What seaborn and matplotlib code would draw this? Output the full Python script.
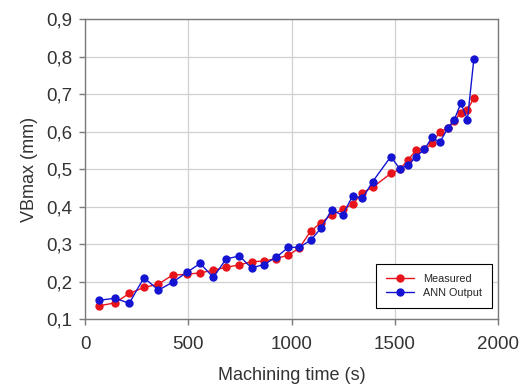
import matplotlib
matplotlib.use("Agg")
import matplotlib.pyplot as plt
from matplotlib.ticker import FuncFormatter
import seaborn as sns
import pandas as pd

# machining time (s)
time_s = [69, 145, 214, 285, 355, 424, 492, 557, 621, 683,
          747, 806, 864, 924, 984, 1037, 1092, 1142, 1193, 1247,
          1295, 1343, 1392, 1480, 1524, 1564, 1603, 1642, 1680, 1717,
          1755, 1787, 1819, 1851, 1882]
measured = [0.136, 0.144, 0.169, 0.185, 0.194, 0.218, 0.220, 0.224, 0.231, 0.239,
            0.245, 0.254, 0.255, 0.262, 0.271, 0.290, 0.335, 0.358, 0.378, 0.393,
            0.407, 0.438, 0.452, 0.489, 0.500, 0.526, 0.551, 0.553, 0.569, 0.600,
            0.609, 0.630, 0.651, 0.658, 0.691]
ann_output = [0.151, 0.156, 0.143, 0.211, 0.178, 0.199, 0.225, 0.249, 0.212, 0.261,
              0.269, 0.237, 0.246, 0.265, 0.292, 0.292, 0.311, 0.343, 0.391, 0.378,
              0.429, 0.423, 0.467, 0.534, 0.501, 0.512, 0.534, 0.553, 0.585, 0.572,
              0.609, 0.632, 0.676, 0.633, 0.794]
series_names = ["Measured", "ANN Output"]
series_colors = ["#e8141c", "#1414d2"]

sns.set_theme(style="white")
plt.rcParams['font.family'] = ['Liberation Sans', 'DejaVu Sans']

df = pd.concat([
    pd.DataFrame({'time': time_s, 'vb': measured, 'series': series_names[0]}),
    pd.DataFrame({'time': time_s, 'vb': ann_output, 'series': series_names[1]}),
])

fig = plt.figure(figsize=(5.25, 3.85), dpi=100)
ax = fig.add_axes([0.162, 0.1706, 0.787, 0.779])

sns.lineplot(data=df, x='time', y='vb', hue='series', hue_order=series_names,
             palette=series_colors, marker='o', markersize=6, markeredgewidth=0,
             linewidth=1.0, ax=ax, sort=False)

ax.set_xlim(0, 2000)
ax.set_ylim(0.1, 0.9)
ax.set_xticks([0, 500, 1000, 1500, 2000])
ax.set_yticks([0.1, 0.2, 0.3, 0.4, 0.5, 0.6, 0.7, 0.8, 0.9])
ax.yaxis.set_major_formatter(FuncFormatter(lambda v, p: f"{v:.1f}".replace('.', ',')))

ax.grid(True, color='#d0d0d0', linewidth=0.9)
ax.set_axisbelow(True)
for s in ax.spines.values():
    s.set_color('#7a7a7a')
    s.set_linewidth(1.0)
ax.tick_params(axis='both', which='major', direction='out', length=4, width=1,
               color='#7a7a7a', labelsize=13.5, labelcolor='#333333',
               left=True, bottom=True)
ax.tick_params(axis='x', pad=8)
ax.tick_params(axis='y', pad=5)

ax.set_xlabel("Machining time (s)", fontsize=13, color='#333333', labelpad=10)
ax.set_ylabel("VBmax (mm)", fontsize=13, color='#333333', labelpad=6)

leg = ax.legend(loc='lower right', bbox_to_anchor=(0.997, 0.02), fontsize=7.8,
                frameon=True, fancybox=False, framealpha=1, edgecolor='black',
                handlelength=2.6, borderpad=0.9, labelspacing=0.4)
leg.get_frame().set_linewidth(0.8)

fig.savefig("out.png", dpi=100)
